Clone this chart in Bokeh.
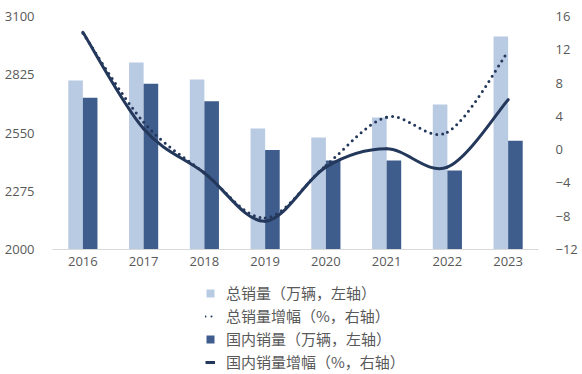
from bokeh.plotting import figure
from bokeh.layouts import column
from bokeh.models import (FactorRange, Range1d, LinearAxis, FixedTicker, Legend,
                          LegendItem, ColumnDataSource)
from bokeh.transform import dodge
from bokeh.embed import file_html
from bokeh.resources import INLINE

# ---- data ----
years = ["2016", "2017", "2018", "2019", "2020", "2021", "2022", "2023"]
total_sales = [2798, 2883, 2802, 2571, 2529, 2623, 2684, 3005]        # 万辆, left axis
domestic_sales = [2716, 2782, 2700, 2470, 2420, 2420, 2373, 2514]     # 万辆, left axis
total_growth = [14.0, 3.3, -2.8, -8.2, -1.9, 3.9, 2.1, 11.8]          # %, right axis
domestic_growth = [14.1, 2.5, -2.8, -8.6, -2.1, 0.1, -2.1, 6.0]       # %, right axis
left_ticks = [2000, 2275, 2550, 2825, 3100]
right_ticks = [-12, -8, -4, 0, 4, 8, 12, 16]
series_labels = ["总销量（万辆，左轴）", "总销量增幅（%，右轴）",
                 "国内销量（万辆，左轴）", "国内销量增幅（%，右轴）"]

LIGHT = "#B9CAE3"
DARK = "#3F5D8C"
NAVY = "#24385C"
TXT = "#595959"
TICK_FONT = "Open Sans"
DOTS = "0 6"

src = ColumnDataSource(dict(year=years, total=total_sales, domestic=domestic_sales,
                            tg=total_growth, dg=domestic_growth))

# ---------------- main chart ----------------
p = figure(x_range=FactorRange(*years), y_range=Range1d(2000, 3100),
           width=580, height=276, output_backend="svg", toolbar_location=None,
           min_border_left=52, min_border_right=39, min_border_top=16,
           min_border_bottom=27)
p.outline_line_color = None
p.xgrid.grid_line_color = None
p.ygrid.grid_line_color = None
p.background_fill_color = "white"
p.border_fill_color = "white"

p.extra_y_ranges = {"g": Range1d(-12, 16)}
raxis = LinearAxis(y_range_name="g", ticker=FixedTicker(ticks=right_ticks))
p.add_layout(raxis, "right")

p.yaxis[0].ticker = FixedTicker(ticks=left_ticks)

for ax, standoff in ((p.yaxis[0], 18), (raxis, 17)):
    ax.axis_line_color = None
    ax.major_tick_line_color = None
    ax.minor_tick_line_color = None
    ax.major_tick_out = 0
    ax.minor_tick_out = 0
    ax.major_label_standoff = standoff
    ax.major_label_text_color = TXT
    ax.major_label_text_font = TICK_FONT
    ax.major_label_text_font_size = "13px"

xa = p.xaxis[0]
xa.axis_line_color = "#D9D9D9"
xa.axis_line_width = 1
xa.major_tick_line_color = None
xa.minor_tick_line_color = None
xa.major_tick_out = 0
xa.minor_tick_out = 0
xa.major_label_standoff = 7
xa.major_label_text_color = TXT
xa.major_label_text_font = TICK_FONT
xa.major_label_text_font_size = "13px"

p.vbar(x=dodge("year", -0.12, range=p.x_range), top="total", bottom=2000,
       width=0.24, source=src, fill_color=LIGHT, line_color=None)
p.vbar(x=dodge("year", 0.12, range=p.x_range), top="domestic", bottom=2000,
       width=0.24, source=src, fill_color=DARK, line_color=None)


def smooth_segments(vals):
    """Bezier segments through the data points (Excel-style smoothed line)."""
    n = len(vals)
    xs = [i + 0.5 for i in range(n)]  # synthetic positions of the categories
    d = dict(x0=[], y0=[], x1=[], y1=[], cx0=[], cy0=[], cx1=[], cy1=[])
    for i in range(n - 1):
        a = max(i - 1, 0)
        b = min(i + 2, n - 1)
        d["x0"].append(xs[i]); d["y0"].append(vals[i])
        d["x1"].append(xs[i + 1]); d["y1"].append(vals[i + 1])
        d["cx0"].append(xs[i] + (xs[i + 1] - xs[a]) / 6)
        d["cy0"].append(vals[i] + (vals[i + 1] - vals[a]) / 6)
        d["cx1"].append(xs[i + 1] - (xs[b] - xs[i]) / 6)
        d["cy1"].append(vals[i + 1] - (vals[b] - vals[i]) / 6)
    return ColumnDataSource(d)


p.bezier(x0="x0", y0="y0", x1="x1", y1="y1", cx0="cx0", cy0="cy0",
         cx1="cx1", cy1="cy1", source=smooth_segments(total_growth),
         y_range_name="g", line_color=NAVY, line_width=3,
         line_dash=DOTS, line_cap="round")
p.bezier(x0="x0", y0="y0", x1="x1", y1="y1", cx0="cx0", cy0="cy0",
         cx1="cx1", cy1="cy1", source=smooth_segments(domestic_growth),
         y_range_name="g", line_color=NAVY, line_width=3, line_cap="round")

# ---------------- legend strip below the chart ----------------
# Same series, drawn into a strip whose y range lies above all of them,
# so only the legend entries are visible there.
q = figure(x_range=FactorRange(*years), y_range=Range1d(100000, 200000),
           width=580, height=96, output_backend="svg", toolbar_location=None,
           x_axis_location=None, y_axis_location=None,
           min_border_left=0, min_border_right=0, min_border_top=0,
           min_border_bottom=0)
q.outline_line_color = None
q.xgrid.grid_line_color = None
q.ygrid.grid_line_color = None

k_total = q.vbar(x="year", top="total", bottom=2000, width=0.24, source=src,
                 fill_color=LIGHT, line_color=None)
k_tg = q.line(x="year", y="tg", source=src, line_color=NAVY, line_width=2,
              line_dash="0 6", line_cap="round")
k_dom = q.vbar(x="year", top="domestic", bottom=2000, width=0.24, source=src,
               fill_color=DARK, line_color=None)
k_dg = q.line(x="year", y="dg", source=src, line_color=NAVY, line_width=3)

legend = Legend(
    items=[LegendItem(label=series_labels[0], renderers=[k_total]),
           LegendItem(label=series_labels[1], renderers=[k_tg]),
           LegendItem(label=series_labels[2], renderers=[k_dom]),
           LegendItem(label=series_labels[3], renderers=[k_dg])],
    location=(153, 0), orientation="vertical",
    glyph_width=10, glyph_height=10, label_standoff=11,
    label_height=20, spacing=2, padding=0, margin=0,
    label_text_font="Noto Sans CJK SC", label_text_font_size="15px",
    label_text_color=TXT, background_fill_alpha=0, border_line_alpha=0)
q.add_layout(legend)

layout = column(p, q, spacing=0)
open("out.html", "w").write(file_html(layout, INLINE))
